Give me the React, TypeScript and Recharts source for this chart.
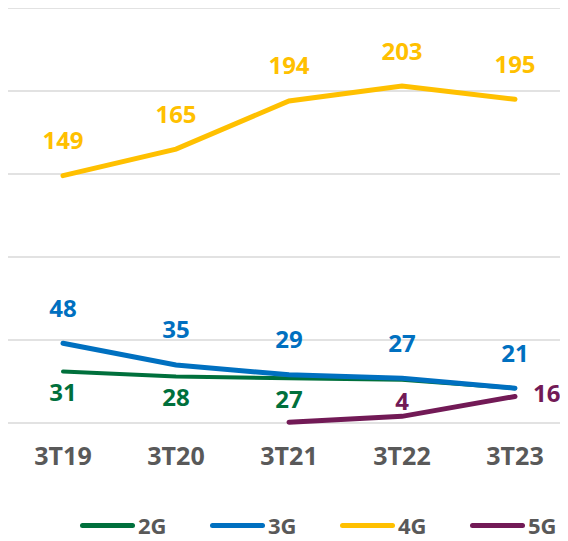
import React from 'react';
import { LineChart, Line, XAxis, YAxis, CartesianGrid, LabelList, Legend } from 'recharts';

// quarters and subscriber values (millions)
const quarters = ['3T19', '3T20', '3T21', '3T22', '3T23'];
const values2G = [31, 28, 27, 26, 21];
const values3G = [48, 35, 29, 27, 21];
const values4G = [149, 165, 194, 203, 195];
const values5G = [null, null, 0.5, 4, 16];
const yTicks = [0, 50, 100, 150, 200, 250];

const COLORS = {
  g2: '#00703c',
  g3: '#0070c0',
  g4: '#ffc000',
  g5: '#721a56',
};

const FONT = '"Open Sans", "Noto Sans", sans-serif';

const data = quarters.map((q, i) => ({
  quarter: q,
  g2: values2G[i],
  g3: values3G[i],
  g4: values4G[i],
  g5: values5G[i],
}));

/**
 * Value label drawn at a fixed offset from the point; hidden indices skipped
 */
const makeLabel =
  (color: string, dx: number, dy: number, anchor: string, hidden: number[] = []) =>
  (props: any) => {
    const { x, y, value, index } = props;
    if (value == null || hidden.includes(index)) return null;
    return (
      <text
        x={x + dx}
        y={y + dy}
        fill={color}
        textAnchor={anchor}
        dominantBaseline="central"
        fontFamily={FONT}
        fontWeight={700}
        fontSize={24}
      >
        {value}
      </text>
    );
  };

const legendItems = [
  { key: 'g2', name: '2G' },
  { key: 'g3', name: '3G' },
  { key: 'g4', name: '4G' },
  { key: 'g5', name: '5G' },
];

const CustomLegend: React.FC = () => (
  <div style={{ display: 'flex', paddingLeft: 72, paddingTop: 26, alignItems: 'center', height: 32 }}>
    {legendItems.map((item, i) => (
      <div
        key={item.key}
        style={{ display: 'flex', alignItems: 'center', width: i < 3 ? 130 : 'auto', flexShrink: 0 }}
      >
        <div
          style={{
            width: 55,
            height: 5,
            borderRadius: 3,
            background: (COLORS as any)[item.key],
            marginRight: 3,
          }}
        />
        <span style={{ fontFamily: FONT, fontWeight: 700, fontSize: 22, color: '#595959', lineHeight: '30px' }}>
          {item.name}
        </span>
      </div>
    ))}
  </div>
);

const App: React.FC = () => {
  return (
    <LineChart width={560} height={533} data={data} margin={{ top: 0, right: 0, bottom: 0, left: 0 }}>
      <CartesianGrid vertical={false} stroke="#d9d9d9" strokeWidth={1.5} />
      <XAxis
        dataKey="quarter"
        axisLine={false}
        tickLine={false}
        padding={{ left: 55, right: 53 }}
        height={60}
        tick={{ fill: '#595959', fontFamily: FONT, fontWeight: 700, fontSize: 25 }}
        tickMargin={18}
      />
      <YAxis hide domain={[0, 250]} ticks={yTicks} />
      <Legend verticalAlign="bottom" height={58} content={<CustomLegend />} />
      <Line
        dataKey="g2"
        stroke={COLORS.g2}
        strokeWidth={4}
        strokeLinecap="round"
        dot={false}
        isAnimationActive={false}
      >
        <LabelList dataKey="g2" content={makeLabel(COLORS.g2, 0, 20, 'middle', [3, 4])} />
      </Line>
      <Line
        dataKey="g3"
        stroke={COLORS.g3}
        strokeWidth={5}
        strokeLinecap="round"
        dot={false}
        isAnimationActive={false}
      >
        <LabelList dataKey="g3" content={makeLabel(COLORS.g3, 0, -36, 'middle')} />
      </Line>
      <Line
        dataKey="g4"
        stroke={COLORS.g4}
        strokeWidth={5}
        strokeLinecap="round"
        dot={false}
        isAnimationActive={false}
      >
        <LabelList dataKey="g4" content={makeLabel(COLORS.g4, 0, -36, 'middle')} />
      </Line>
      <Line
        dataKey="g5"
        stroke={COLORS.g5}
        strokeWidth={5}
        strokeLinecap="round"
        dot={false}
        isAnimationActive={false}
      >
        <LabelList dataKey="g5" content={(p: any) => (p.index === 4
          ? makeLabel(COLORS.g5, 18, -4, 'start')(p)
          : makeLabel(COLORS.g5, 0, -16, 'middle', [2])(p))} />
      </Line>
    </LineChart>
  );
};

export default App;
